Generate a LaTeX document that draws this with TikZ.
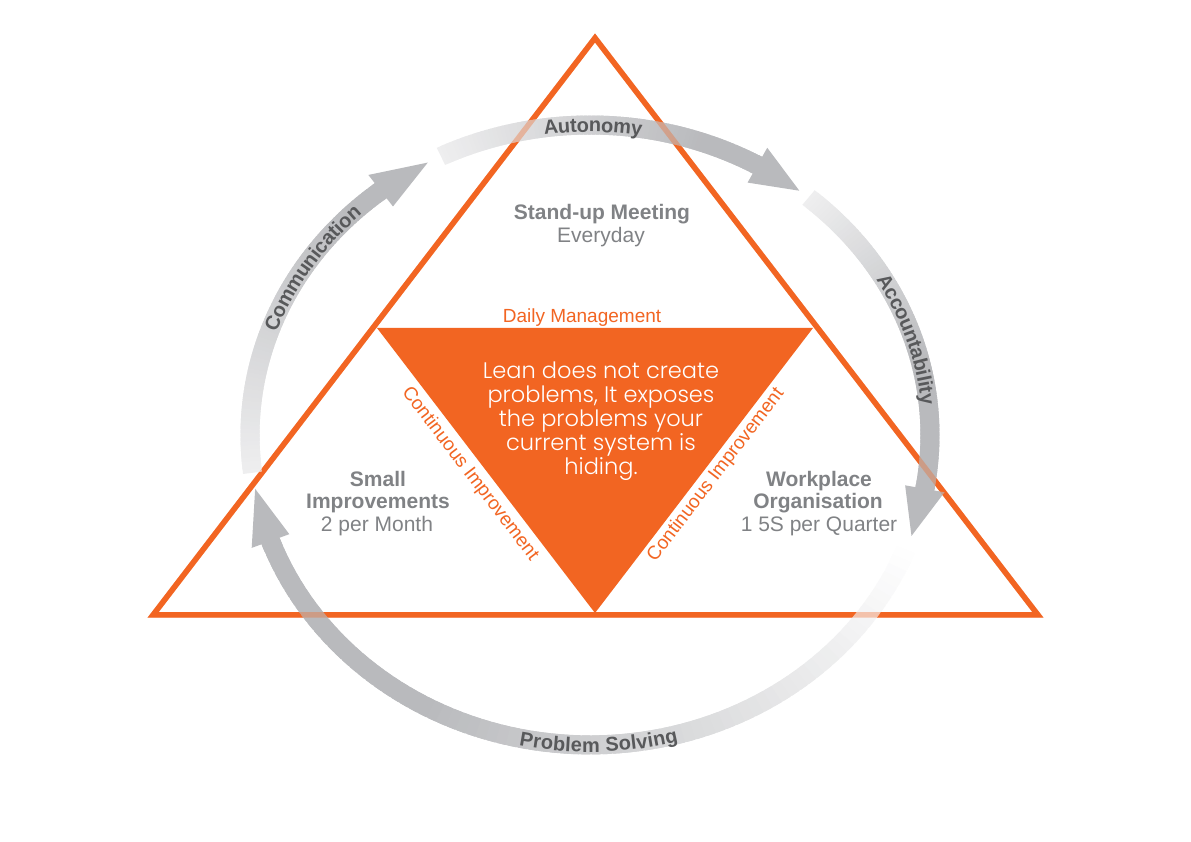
\documentclass[tikz,border=0pt]{standalone}
\usepackage{fontspec}
\setmainfont{Liberation Sans}
\newfontfamily\quotefont{Poppins Light}
\usetikzlibrary{decorations.text}
\definecolor{lorange}{HTML}{F26522}
\definecolor{bandgrey}{HTML}{B9BABD}
\definecolor{bandlight}{HTML}{EEEEEF}
\definecolor{labelgrey}{HTML}{58595B}
\definecolor{textgrey}{HTML}{808285}
% #1 start angle, #2 head base angle, #3 tip angle, #4 start colour, #5 end colour, #6 gradient fraction
\newcommand\drawband[6]{%
  \foreach \i in {0,...,79}{%
    \pgfmathsetmacro\sA{#1+(#2-#1)*\i/80}%
    \pgfmathsetmacro\sB{#1+(#2-#1)*min(\i+1.8,80)/80}%
    \pgfmathtruncatemacro\pc{min(100,100*\i/(80*#6))}%
    \fill[#5!\pc!#4] ({590+349.5*cos(\sA)},{407+319.5*sin(\sA)}) -- ({590+349.5*cos(\sB)},{407+319.5*sin(\sB)}) -- ({590+330.5*cos(\sB)},{407+300.5*sin(\sB)}) -- ({590+330.5*cos(\sA)},{407+300.5*sin(\sA)}) -- cycle;
  }%
  \pgfmathsetmacro\sC{#2+0.01*(#1-#2)}%
  \fill[#5] ({590+349.5*cos(\sC)},{407+319.5*sin(\sC)}) -- ({590+349.5*cos(#2)},{407+319.5*sin(#2)}) -- ({590+360*cos(#2)},{407+330*sin(#2)}) -- ({590+340*cos(#3)},{407+310*sin(#3)}) -- ({590+320*cos(#2)},{407+290*sin(#2)}) -- ({590+330.5*cos(#2)},{407+300.5*sin(#2)}) -- ({590+330.5*cos(\sC)},{407+300.5*sin(\sC)}) -- cycle;
}
\begin{document}
\begin{tikzpicture}[x=1pt,y=1pt,
  tri/.style={draw=lorange, line width=5.5pt, line join=miter},
  greybold/.style={anchor=base, text=textgrey, inner sep=0pt, font=\fontsize{21}{22.5}\selectfont\bfseries},
  greyreg/.style={anchor=base, text=textgrey, inner sep=0pt, font=\fontsize{21}{22.5}\selectfont},
  orangetxt/.style={text=lorange, inner sep=0pt, font=\fontsize{19}{20}\selectfont},
  bandlabel/.style={decorate, decoration={text along path, text align=center, raise=-7pt, text color=labelgrey}}
]
\useasboundingbox (0,0) rectangle (1191,842);
\fill[white] (0,0) rectangle (1191,842);
\coordinate (apex) at (595,804);
\coordinate (bl) at (153,227);
\coordinate (br) at (1038,227);
\draw[tri] (apex) -- (bl) -- (br) -- cycle;
\coordinate (itl) at (377,514);
\coordinate (itr) at (813,514);
\coordinate (ibt) at (595,229);
\fill[lorange] (itl) -- (itr) -- (ibt) -- cycle;

% circular arrows
\drawband{-20}{-160}{-170}{white}{bandgrey}{0.7}
\drawband{187}{128}{118.5}{bandlight}{bandgrey}{0.9}
\drawband{116}{60.5}{52}{bandlight}{bandgrey}{0.8}
\drawband{50}{-10}{-19}{bandlight}{bandgrey}{0.6}

\draw[tri, draw opacity=0.35] (apex) -- (bl) -- (br) -- cycle;

% band labels
\path[bandlabel, decoration={text={|\fontsize{20}{20}\selectfont\bfseries|Autonomy}}]
  ({590+340*cos(112)},{407+310*sin(112)}) arc[start angle=112, end angle=67, x radius=340pt, y radius=310pt];
\path[bandlabel, decoration={text={|\fontsize{20}{20}\selectfont\bfseries|Communication}}]
  ({590+340*cos(173)},{407+310*sin(173)}) arc[start angle=173, end angle=121, x radius=340pt, y radius=310pt];
\path[bandlabel, decoration={text={|\fontsize{20}{20}\selectfont\bfseries|Accountability}}]
  ({590+340*cos(45)},{407+310*sin(45)}) arc[start angle=45, end angle=-9, x radius=340pt, y radius=310pt];
\path[bandlabel, decoration={text={|\fontsize{20}{20}\selectfont\bfseries|Problem Solving}}]
  ({590+340*cos(-122)},{407+310*sin(-122)}) arc[start angle=-122, end angle=-55, x radius=340pt, y radius=310pt];

% triangle labels
\node[greybold] (su1) at (602,622) {Stand-up Meeting};
\node[greyreg] (su2) at (601,599) {Everyday};
\node[greybold] (sm1) at (378,355) {Small};
\node[greybold] (sm2) at (378,333) {Improvements};
\node[greyreg] (sm3) at (377,310) {2 per Month};
\node[greybold] (wp1) at (819,355) {Workplace};
\node[greybold] (wp2) at (818,333) {Organisation};
\node[greyreg] (wp3) at (819,310) {1 5S per Quarter};

\node[orangetxt, anchor=base] (dm) at (582,519) {Daily Management};
\node[orangetxt, rotate=-52.6] (ci1) at (470,368) {Continuous Improvement};
\node[orangetxt, rotate=52.6] (ci2) at (716,367) {Continuous Improvement};

\node[text=white, align=center, inner sep=0pt, font=\quotefont\fontsize{22.5}{24}\selectfont] (quote) at (601,421)
  {Lean does not create\\problems, It exposes\\the problems your\\current system is\\hiding.};
\end{tikzpicture}
\end{document}
